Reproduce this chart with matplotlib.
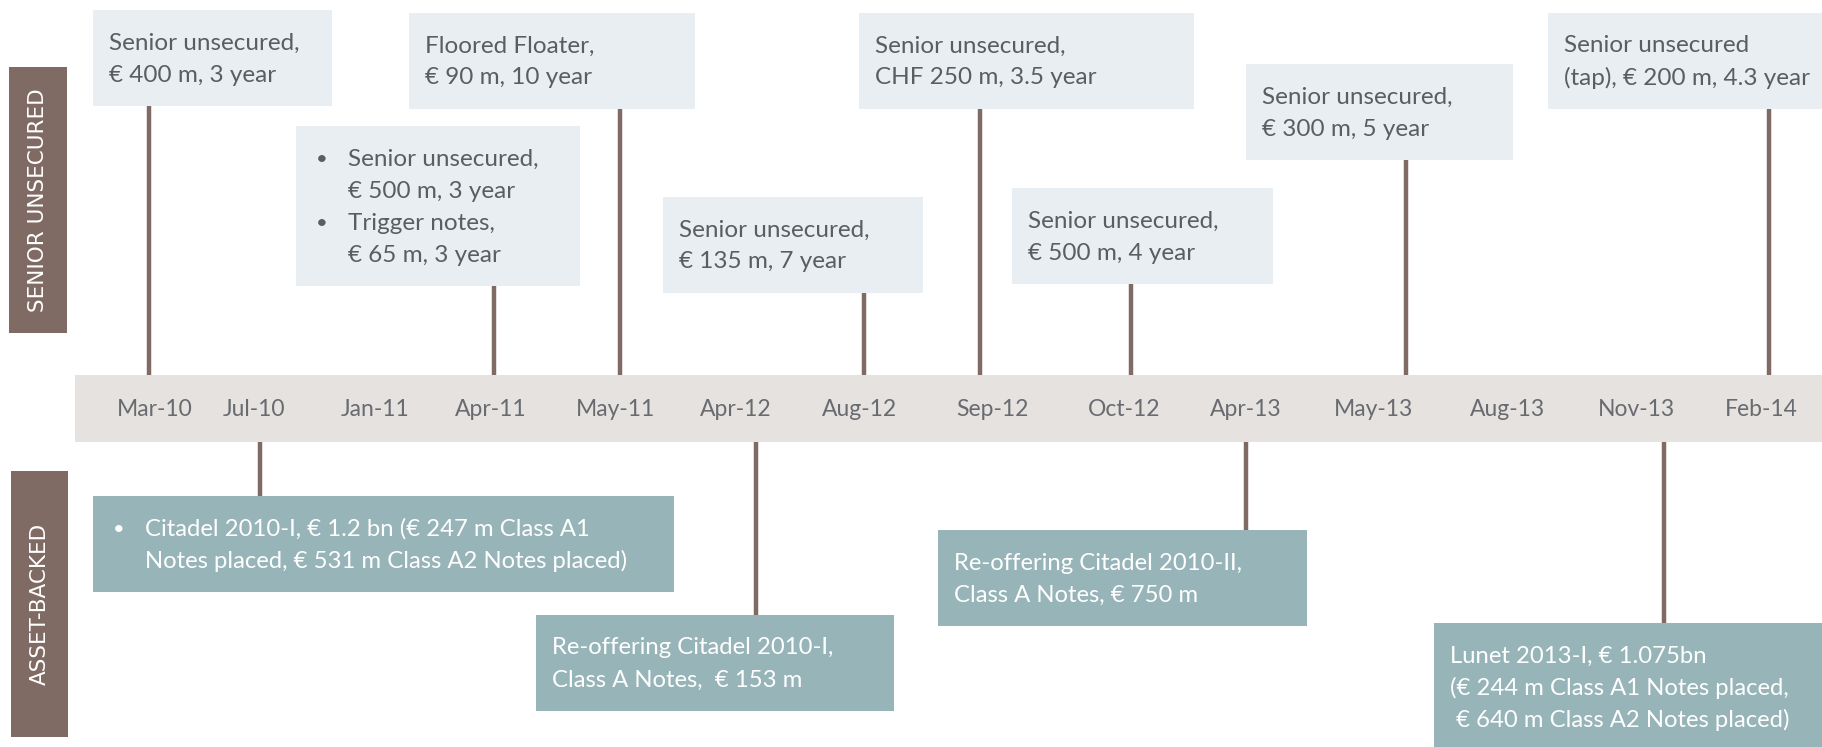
import matplotlib

matplotlib.use("Agg")
import matplotlib.pyplot as plt
from matplotlib.patches import Rectangle
from matplotlib import font_manager

# palette
BROWN = "#7f6b64"
BAND = "#e6e2df"
LIGHT = "#e8eef1"
TEAL = "#97b4b8"
TXT = "#5a5e63"
TICK = "#686b70"

names = {f.name for f in font_manager.fontManager.ttflist}
MAIN = "Lato" if "Lato" in names else "DejaVu Sans"

# ---- data
dates = ["Mar-10", "Jul-10", "Jan-11", "Apr-11", "May-11", "Apr-12", "Aug-12",
         "Sep-12", "Oct-12", "Apr-13", "May-13", "Aug-13", "Nov-13", "Feb-14"]

unsec_dates = ["Mar-10", "May-11", "Apr-11", "Aug-12", "Sep-12", "Oct-12",
               "May-13", "Feb-14"]
unsec_text = [
    ["Senior unsecured,", "€ 400 m, 3 year"],
    ["Floored Floater,", "€ 90 m, 10 year"],
    ["• Senior unsecured,", "  € 500 m, 3 year", "• Trigger notes,", "  € 65 m, 3 year"],
    ["Senior unsecured,", "€ 135 m, 7 year"],
    ["Senior unsecured,", "CHF 250 m, 3.5 year"],
    ["Senior unsecured,", "€ 500 m, 4 year"],
    ["Senior unsecured,", "€ 300 m, 5 year"],
    ["Senior unsecured", "(tap), € 200 m, 4.3 year"],
]

abs_dates = ["Jul-10", "Apr-12", "Apr-13", "Nov-13"]
abs_text = [
    ["• Citadel 2010-I, € 1.2 bn (€ 247 m Class A1",
     "  Notes placed, € 531 m Class A2 Notes placed)"],
    ["Re-offering Citadel 2010-I,", "Class A Notes,  € 153 m"],
    ["Re-offering Citadel 2010-II,", "Class A Notes, € 750 m"],
    ["Lunet 2013-I, € 1.075bn", "(€ 244 m Class A1 Notes placed,",
     " € 640 m Class A2 Notes placed)"],
]

# ---- layout (pixel space, 1822 x 747)
tick_x = [155, 254, 375, 491, 616, 736, 859, 992, 1124, 1246, 1373, 1507, 1636, 1761]
unsec_stem = [149, 620, 494, 864, 980, 1131, 1406, 1769]
unsec_box = [(93, 332, 10, 106), (409, 695, 13, 109), (296, 580, 126, 286),
             (663, 923, 197, 293), (859, 1194, 13, 109), (1012, 1273, 188, 284),
             (1246, 1513, 64, 160), (1548, 1830, 13, 109)]
abs_stem = [260, 756, 1246, 1664]
abs_box = [(93, 674, 496, 592), (536, 894, 615, 711), (938, 1307, 530, 626),
           (1434, 1830, 623, 760)]
BAND_Y = (375, 442)

W, H = 1822, 747
fig = plt.figure(figsize=(W / 100, H / 100), dpi=100)
ax = fig.add_axes([0, 0, 1, 1])
ax.set_xlim(0, W)
ax.set_ylim(H, 0)
ax.axis("off")

# timeline band
ax.add_patch(Rectangle((75, BAND_Y[0]), W - 75, BAND_Y[1] - BAND_Y[0],
                       color=BAND, lw=0, zorder=1))
for d, x in zip(dates, tick_x):
    ax.text(x, 410, d, ha="center", va="center", fontsize=16.5,
            family=MAIN, color=TICK, zorder=3)


def draw_box(box, lines, fc, color, size):
    x0, x1, y0, y1 = box
    ax.add_patch(Rectangle((x0, y0), x1 - x0, y1 - y0, color=fc, lw=0, zorder=2))
    for i, ln in enumerate(lines):
        y = y0 + 33 + 32 * i
        if ln.startswith("• "):
            ax.text(x0 + 20, y, "•", ha="left", va="center", fontsize=size - 3,
                    family=MAIN, color=color, zorder=3)
            ln = ln[2:]
            tx = x0 + 52
        elif ln.startswith("  "):
            ln = ln[2:]
            tx = x0 + 52
        else:
            tx = x0 + 16
        ax.text(tx, y, ln, ha="left", va="center", fontsize=size,
                family=MAIN, color=color, zorder=3)


for i, (d, lines) in enumerate(zip(unsec_dates, unsec_text)):
    box = unsec_box[i]
    ax.plot([unsec_stem[i]] * 2, [box[3], BAND_Y[0]], color=BROWN, lw=3.2,
            solid_capstyle="butt", zorder=1.5)
    draw_box(box, lines, LIGHT, TXT, 17.5)

for i, (d, lines) in enumerate(zip(abs_dates, abs_text)):
    box = abs_box[i]
    ax.plot([abs_stem[i]] * 2, [BAND_Y[1], box[2]], color=BROWN, lw=3.2,
            solid_capstyle="butt", zorder=1.5)
    draw_box(box, lines, TEAL, "white", 17.2)

# side labels
for (x0, x1, y0, y1), lab in [((9, 67, 67, 333), "SENIOR UNSECURED"),
                              ((11, 68, 471, 737), "ASSET-BACKED")]:
    ax.add_patch(Rectangle((x0, y0), x1 - x0, y1 - y0, color=BROWN, lw=0))
    ax.text((x0 + x1) / 2, (y0 + y1) / 2, lab, rotation=90, ha="center",
            va="center", fontsize=15.5, color="white", family="DejaVu Sans")

fig.savefig("out.png", dpi=100, facecolor="white")
